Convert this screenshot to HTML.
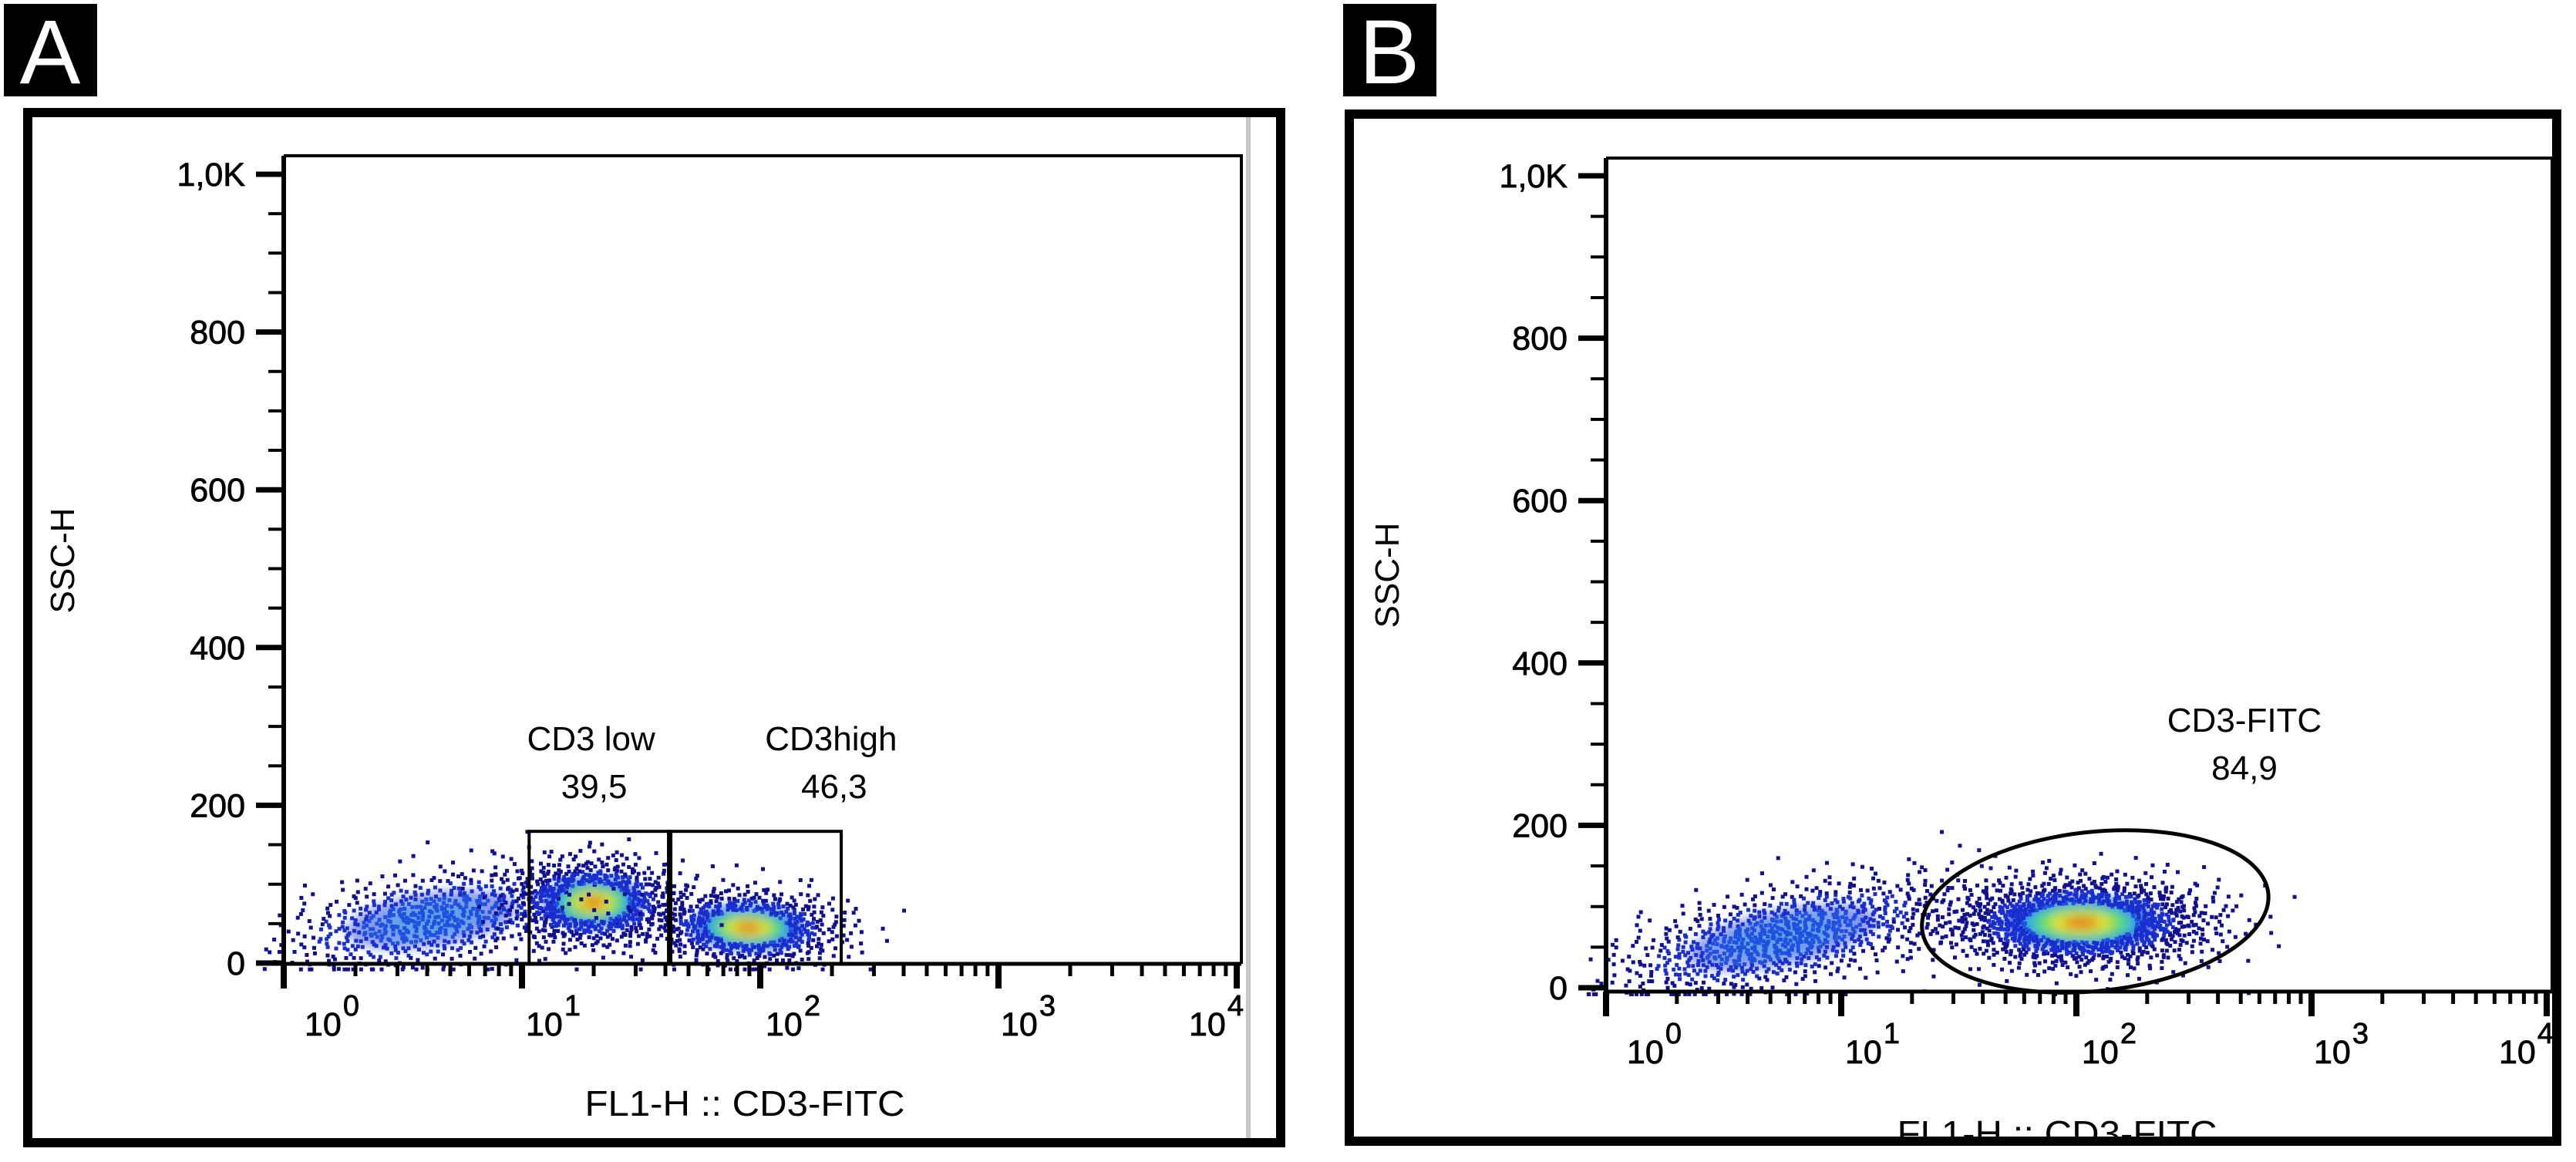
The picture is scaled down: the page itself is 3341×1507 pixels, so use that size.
<!DOCTYPE html>
<html><head><meta charset="utf-8"><style>
html,body{margin:0;padding:0;background:#fff;}
svg{display:block;}
text{font-family:"Liberation Sans",Arial,sans-serif;fill:#000;}
</style></head><body>
<svg id="fig" xmlns="http://www.w3.org/2000/svg" width="3341" height="1507" viewBox="0 0 3341 1507">
<defs>
<filter id="blur" x="-50%" y="-50%" width="200%" height="200%"><feGaussianBlur stdDeviation="7"/></filter>
</defs>
</svg>
<script>
// ---------- Panel A data ----------
const aClusterLog   = [0.62, 1.30, 1.95];   // log10 FL1-H centers
const aClusterSSC   = [55, 77, 45];         // SSC-H centers
const aClusterSdLog = [0.30, 0.16, 0.18];
const aClusterSdSSC = [28, 25, 22];
const aClusterSlope = [45, 0, -10];         // SSC change per decade
const aClusterCount = [650, 800, 750];
const aClusterCore  = [0.35, 1.0, 0.9];
const aGateLo   = [1.03, 1.62];
const aGateHi   = [1.62, 2.34];
const aGateTop  = [167, 167];
const aGateName = ["CD3 low", "CD3high"];
const aGateVal  = ["39,5", "46,3"];
const aGateLabelLog = [1.29, 2.29];
// ---------- Panel B data ----------
const bClusterLog   = [0.75, 2.02];
const bClusterSSC   = [62, 80];
const bClusterSdLog = [0.34, 0.25];
const bClusterSdSSC = [28, 25];
const bClusterSlope = [60, 0];
const bClusterCount = [900, 1500];
const bClusterCore  = [0.4, 1.0];
const bGateCenterLog = [2.08];
const bGateCenterSSC = [94];
const bGateRadLog = [0.74];
const bGateRadSSC = [98];
const bGateName = ["CD3-FITC"];
const bGateVal  = ["84,9"];
// ---------- Axes ----------
const yTickVals   = [0, 200, 400, 600, 800, 1000];
const yTickLabels = ["0", "200", "400", "600", "800", "1,0K"];
const xDecades    = [0, 1, 2, 3, 4];
const xLabelOffsets = [27, 5, 7, 3, -62];

const NS = "http://www.w3.org/2000/svg";
const svg = document.getElementById('fig');
function el(tag, attrs, parent) {
  const e = document.createElementNS(NS, tag);
  for (const k in attrs) e.setAttribute(k, attrs[k]);
  (parent || svg).appendChild(e);
  return e;
}
function halton(i, b) { let f = 1, r = 0; while (i > 0) { f /= b; r += f * (i % b); i = Math.floor(i / b); } return r; }

function drawPanel(P) {
  const g = el('g', {});
  
  
  const X = v => P.x0 + v * P.dec;
  const Y = v => P.y0 - v * P.ppu;
  const lb = el('rect', {x: P.lbx, y: 5, width: 121, height: 120, fill: '#000'}, g);
  
  
  const lt = el('text', {x: P.lbx + 60, y: 108, 'font-size': 118, 'text-anchor': 'middle', style: 'fill:#fff'}, g);
  lt.textContent = P.letter;
  
  

  const sc = el('g', {}, g);
  
  
  const blurG = el('g', {filter: 'url(#blur)'}, sc);
  const dotsG = el('g', {}, sc);
  for (let c = 0; c < P.cl.length; c++) {
    const cx = P.cl[c], cy = P.cs[c], sx = P.sdl[c], sy = P.sds[c], sl = P.slope[c], n = P.count[c], core = P.core[c];
    const rxpx = sx * P.dec, rypx = sy * P.ppu;
    const strong = core > 0.5;
    const layers = strong
      ? [[1.3, '#2040d8', 0.9], [1.05, '#30b0e8', 0.9], [0.82, '#60e060', 0.95], [0.55, '#e8e030', 0.95], [0.3, '#e86018', 0.85]]
      : [[1.2, '#2848d8', 0.55], [0.7, '#30a8e0', 0.45]];
    const rot = -Math.atan(sl * P.ppu / P.dec) * 180 / Math.PI;
    for (const [k, col, op] of layers) {
      const e = el('ellipse', {cx: X(cx), cy: Y(cy), rx: rxpx * k, ry: rypx * k, fill: col, opacity: op,
        transform: `rotate(${rot} ${X(cx)} ${Y(cy)})`}, blurG);
      
      
    }
    for (let i = 1; i <= n; i++) {
      const u1 = halton(i + c * 997, 2) || 0.5, u2 = halton(i + c * 997, 3);
      const r = Math.sqrt(-2 * Math.log(u1)), t = 2 * Math.PI * u2;
      const dx = r * Math.cos(t) * 1.1, dy = r * Math.sin(t) * 1.1;
      const lv = cx + dx * sx, sv = Math.max(-8, cy + dy * sy + sl * (dx * sx));
      if (lv < -0.08 || lv > 3.9) continue;
      const d = Math.sqrt(dx * dx + dy * dy);
      if (strong && d < 0.95) continue;
      const col = d > 1.6 ? '#101090' : (d > 1.0 ? '#1a2ed0' : '#2050e0');
      const p = el('rect', {x: X(lv) - 2.5, y: Y(sv) - 2.5, width: 5, height: 5, fill: col}, dotsG);
      
      
    }
  }

  const pb = el('path', {d: `M${P.x0} ${P.top} H${P.right} V${P.axisY}`, stroke: '#000', 'stroke-width': 4, fill: 'none'}, g);
  
  

  const ya = el('g', {}, g);
  
  
  el('line', {x1: P.x0, y1: P.top, x2: P.x0, y2: P.axisY + 3, stroke: '#000', 'stroke-width': 6}, ya);
  for (let v = 0; v <= 1000; v += 50) {
    const major = v % 200 === 0;
    el('line', {x1: P.x0 - (major ? 36 : 20), y1: Y(v), x2: P.x0, y2: Y(v), stroke: '#000', 'stroke-width': major ? 7 : 4}, ya);
  }
  for (let i = 0; i < yTickVals.length; i++) {
    const t = el('text', {x: P.x0 - 50, y: Y(yTickVals[i]) + 15, 'font-size': 43, 'text-anchor': 'end', stroke: '#000', 'stroke-width': 0.8}, ya);
    t.textContent = yTickLabels[i];
    
    
  }
  const yt = el('text', {x: 0, y: 0, 'font-size': 44, 'text-anchor': 'middle', transform: `translate(${P.ytx} ${P.yty}) rotate(-90)`}, g);
  yt.textContent = 'SSC-H';
  
  

  const xa = el('g', {}, g);
  
  
  el('line', {x1: P.x0 - 3, y1: P.axisY, x2: P.right, y2: P.axisY, stroke: '#000', 'stroke-width': 5}, xa);
  for (let d = 0; d < 4; d++) for (let m = 2; m <= 9; m++) {
    const xx = X(d + Math.log10(m));
    el('line', {x1: xx, y1: P.axisY, x2: xx, y2: P.axisY + 16, stroke: '#000', 'stroke-width': 5}, xa);
  }
  for (let i = 0; i < xDecades.length; i++) {
    const xx = X(xDecades[i]);
    el('line', {x1: xx, y1: P.axisY, x2: xx, y2: P.axisY + 32, stroke: '#000', 'stroke-width': 8}, xa);
    const t = el('text', {x: xx + xLabelOffsets[i], y: P.axisY + 93, 'font-size': 43, stroke: '#000', 'stroke-width': 0.8}, xa);
    t.textContent = '10';
    const s = el('tspan', {dy: -26, dx: 2, 'font-size': 38}, t);
    s.textContent = String(xDecades[i]);
    
    
  }
  const xt = el('text', {x: P.xtx, y: P.xty, 'font-size': 46, 'text-anchor': 'middle', textLength: 415, lengthAdjust: 'spacingAndGlyphs'}, g);
  xt.textContent = 'FL1-H :: CD3-FITC';
  
  
  return {g, X, Y};
}

// Panel A
const A = drawPanel({name: 'panel-a', letter: 'A', lbx: 5, x0: 368, dec: 309, y0: 1249, ppu: 1.023, top: 202, right: 1610, axisY: 1250,
  ytx: 96, yty: 727, xtx: 966, xty: 1447,
  cl: aClusterLog, cs: aClusterSSC, sdl: aClusterSdLog, sds: aClusterSdSSC, slope: aClusterSlope, count: aClusterCount, core: aClusterCore});
for (let i = 0; i < aGateLo.length; i++) {
  const x1 = A.X(aGateLo[i]), x2 = A.X(aGateHi[i]), yt = A.Y(aGateTop[i]);
  const r = el('rect', {x: x1, y: yt, width: x2 - x1, height: 1250 - yt, fill: 'none', stroke: '#000', 'stroke-width': 4}, A.g);
  
  
  const cx = A.X(aGateLabelLog[i]) - (i === 0 ? 0 : 0);
  const lx = i === 0 ? cx : A.X((aGateLo[i] + aGateHi[i]) / 2) + 98;
  const t1 = el('text', {x: lx, y: yt - 105, 'font-size': 44, 'text-anchor': 'middle'}, A.g);
  t1.textContent = aGateName[i];
  
  
  const t2 = el('text', {x: lx + 4, y: yt - 43, 'font-size': 44, 'text-anchor': 'middle'}, A.g);
  t2.textContent = aGateVal[i];
  
  
}
el('line', {x1: A.X(aGateHi[0]), y1: A.Y(aGateTop[0]), x2: A.X(aGateHi[0]), y2: 1252, stroke: '#000', 'stroke-width': 7}, A.g);
const ga = el('line', {x1: 1619, y1: 152, x2: 1619, y2: 1478, stroke: '#c8c8c8', 'stroke-width': 6});


const fa = el('rect', {x: 36, y: 146, width: 1625, height: 1336, fill: 'none', stroke: '#000', 'stroke-width': 12});



// Panel B
const B = drawPanel({name: 'panel-b', letter: 'B', lbx: 1742, x0: 2083, dec: 305, y0: 1281, ppu: 1.053, top: 205, right: 3310, axisY: 1286,
  ytx: 1814, yty: 746, xtx: 2668, xty: 1486,
  cl: bClusterLog, cs: bClusterSSC, sdl: bClusterSdLog, sds: bClusterSdSSC, slope: bClusterSlope, count: bClusterCount, core: bClusterCore});
for (let i = 0; i < bGateCenterLog.length; i++) {
  const cx = B.X(bGateCenterLog[i]), cy = B.Y(bGateCenterSSC[i]);
  const e = el('ellipse', {cx, cy, rx: bGateRadLog[i] * 305, ry: bGateRadSSC[i] * 1.053, fill: 'none', stroke: '#000', 'stroke-width': 5, transform: `rotate(-6 ${cx} ${cy})`}, B.g);
  
  
  const t1 = el('text', {x: 2911, y: 949, 'font-size': 44, 'text-anchor': 'middle'}, B.g);
  t1.textContent = bGateName[i];
  
  
  const t2 = el('text', {x: 2911, y: 1011, 'font-size': 44, 'text-anchor': 'middle'}, B.g);
  t2.textContent = bGateVal[i];
  
  
}
const wb = el('rect', {x: 1740, y: 1478, width: 1601, height: 29, fill: '#fff'});


const fb = el('rect', {x: 1750, y: 148, width: 1566, height: 1332, fill: 'none', stroke: '#000', 'stroke-width': 12});


</script>
</body></html>
